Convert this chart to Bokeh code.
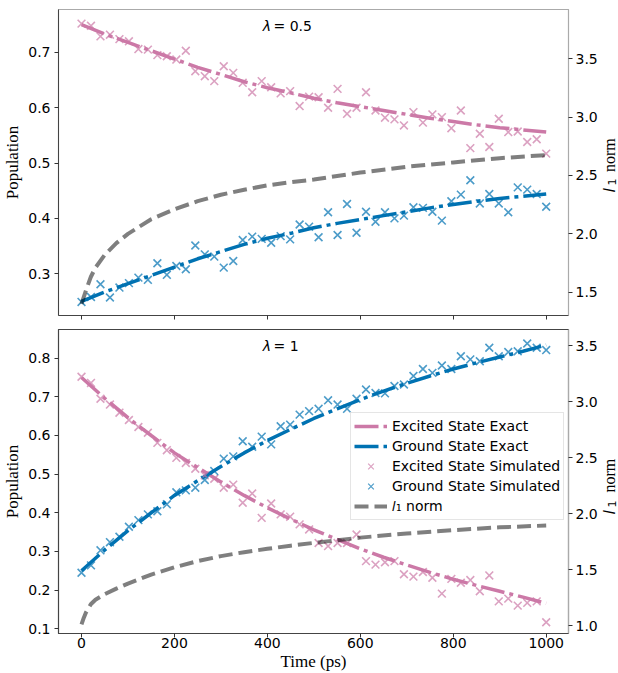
import math
from bokeh.plotting import figure
from bokeh.layouts import column, row
from bokeh.models import (Range1d, LinearAxis, FixedTicker, Legend, LegendItem,
                          Label, CustomJSTickFormatter, PrintfTickFormatter)
from bokeh.embed import file_html
from bokeh.resources import INLINE

# ---------------- data ----------------
t_sim = [0, 20.41, 40.82, 61.22, 81.63, 102.04, 122.45, 142.86, 163.27, 183.67,
         204.08, 224.49, 244.9, 265.31, 285.71, 306.12, 326.53, 346.94, 367.35, 387.76,
         408.16, 428.57, 448.98, 469.39, 489.8, 510.2, 530.61, 551.02, 571.43, 591.84,
         612.24, 632.65, 653.06, 673.47, 693.88, 714.29, 734.69, 755.1, 775.51, 795.92,
         816.33, 836.73, 857.14, 877.55, 897.96, 918.37, 938.78, 959.18, 979.59, 1000]

t_exact = [0, 50, 100, 150, 200, 250, 300, 350, 400, 450, 500,
           550, 600, 650, 700, 750, 800, 850, 900, 950, 1000]

t_l1 = [0, 5, 10, 20, 30, 50, 75, 100, 150, 200, 250, 300, 350, 400, 450, 500,
        600, 700, 800, 900, 1000]

# lambda = 0.5 panel
exc_exact_05 = [0.750, 0.733, 0.718, 0.703, 0.688, 0.673, 0.660, 0.647, 0.636, 0.627, 0.617,
                0.609, 0.602, 0.595, 0.588, 0.581, 0.575, 0.569, 0.564, 0.560, 0.556]
gnd_exact_05 = [0.250, 0.267, 0.282, 0.297, 0.312, 0.327, 0.340, 0.353, 0.364, 0.373, 0.383,
                0.391, 0.398, 0.405, 0.412, 0.419, 0.425, 0.431, 0.436, 0.440, 0.444]
exc_sim_05 = [0.752, 0.748, 0.729, 0.732, 0.724, 0.720, 0.706, 0.705, 0.695, 0.693,
              0.687, 0.703, 0.666, 0.657, 0.648, 0.675, 0.663, 0.645, 0.628, 0.648,
              0.637, 0.626, 0.630, 0.603, 0.620, 0.619, 0.600, 0.634, 0.589, 0.600,
              0.628, 0.595, 0.582, 0.579, 0.568, 0.592, 0.573, 0.588, 0.583, 0.563,
              0.595, 0.527, 0.553, 0.529, 0.580, 0.556, 0.557, 0.538, 0.543, 0.517]
gnd_sim_05 = [0.249, 0.258, 0.281, 0.257, 0.275, 0.283, 0.293, 0.289, 0.319, 0.298,
              0.314, 0.308, 0.351, 0.335, 0.331, 0.311, 0.323, 0.361, 0.367, 0.363,
              0.356, 0.368, 0.362, 0.389, 0.385, 0.366, 0.411, 0.370, 0.426, 0.374,
              0.412, 0.394, 0.411, 0.400, 0.405, 0.420, 0.419, 0.412, 0.396, 0.431,
              0.443, 0.469, 0.427, 0.444, 0.427, 0.411, 0.456, 0.452, 0.444, 0.421]
l1_05 = [1.40, 1.46, 1.52, 1.63, 1.71, 1.82, 1.92, 2.00, 2.125, 2.21, 2.28, 2.335, 2.378,
         2.415, 2.443, 2.465, 2.525, 2.575, 2.612, 2.648, 2.675]

# lambda = 1 panel
exc_exact_1 = [0.750, 0.696, 0.646, 0.600, 0.555, 0.517, 0.480, 0.445, 0.413, 0.384, 0.356,
               0.331, 0.307, 0.285, 0.265, 0.246, 0.228, 0.212, 0.197, 0.182, 0.166]
gnd_exact_1 = [0.250, 0.304, 0.354, 0.400, 0.445, 0.483, 0.520, 0.555, 0.587, 0.616, 0.644,
               0.669, 0.693, 0.715, 0.735, 0.754, 0.772, 0.788, 0.803, 0.818, 0.834]
exc_sim_1 = [0.752, 0.736, 0.695, 0.680, 0.659, 0.640, 0.622, 0.607, 0.581, 0.562,
             0.542, 0.529, 0.514, 0.497, 0.488, 0.465, 0.473, 0.426, 0.450, 0.387,
             0.424, 0.396, 0.390, 0.370, 0.357, 0.322, 0.314, 0.322, 0.322, 0.344,
             0.275, 0.266, 0.272, 0.275, 0.241, 0.235, 0.247, 0.232, 0.191, 0.229,
             0.219, 0.226, 0.197, 0.238, 0.171, 0.178, 0.160, 0.167, 0.171, 0.117]
gnd_sim_1 = [0.245, 0.264, 0.303, 0.324, 0.338, 0.364, 0.381, 0.396, 0.404, 0.422,
             0.453, 0.458, 0.465, 0.485, 0.508, 0.540, 0.546, 0.585, 0.571, 0.597,
             0.577, 0.624, 0.628, 0.654, 0.663, 0.669, 0.691, 0.680, 0.669, 0.695,
             0.719, 0.710, 0.709, 0.728, 0.732, 0.754, 0.772, 0.762, 0.781, 0.772,
             0.805, 0.797, 0.792, 0.827, 0.805, 0.816, 0.818, 0.838, 0.827, 0.821]
l1_1 = [1.01, 1.07, 1.12, 1.19, 1.23, 1.28, 1.33, 1.375, 1.455, 1.52, 1.575, 1.62, 1.655,
        1.685, 1.713, 1.738, 1.785, 1.822, 1.852, 1.877, 1.893]

x_ticks = [0, 200, 400, 600, 800, 1000]
pop_ticks_05 = [0.3, 0.4, 0.5, 0.6, 0.7]
l1_ticks_05 = [1.5, 2.0, 2.5, 3.0, 3.5]
pop_ticks_1 = [0.1, 0.2, 0.3, 0.4, 0.5, 0.6, 0.7, 0.8]
l1_ticks_1 = [1.0, 1.5, 2.0, 2.5, 3.0, 3.5]

labels = ["Excited State Exact", "Ground State Exact", "Excited State Simulated",
          "Ground State Simulated", "\U0001D459\u2081 norm"]

# ---------------- styling ----------------
PINK = "#CC79A7"
BLUE = "#0072B2"
TICK_FONT = "DejaVu Sans"
LABEL_FONT = "Liberation Serif"
DASHDOT = "24 5 4 5"
DASHED = "14 6"
X_HI = 1048
MAIN_W = 600      # width of the two plot figures
STRIP_W = 18      # strip on the right carrying the rotated "l1 norm" labels
TOP_H = 322
BOT_H = 351


def style_axis(ax, ticks, fmt, standoff):
    ax.ticker = FixedTicker(ticks=ticks)
    if fmt is not None:
        ax.formatter = fmt
    ax.major_label_text_font = TICK_FONT
    ax.major_label_text_font_size = "14px"
    ax.major_label_text_color = "black"
    ax.major_tick_out = 4
    ax.major_tick_in = 0
    ax.minor_tick_out = 0
    ax.minor_tick_in = 0
    ax.major_tick_line_color = "#333333"
    ax.major_label_standoff = standoff
    ax.axis_label_text_font = LABEL_FONT
    ax.axis_label_text_font_size = "17px"
    ax.axis_label_text_font_style = "normal"
    ax.axis_label_text_color = "black"
    ax.axis_label_standoff = 3


def make_panel(height, top_border, bottom_border, pop_range, l1_range, pop_ticks, l1_ticks,
               exc_exact, gnd_exact, exc_sim, gnd_sim, l1, lam_text, show_x_labels,
               outline_color):
    p = figure(width=MAIN_W, height=height, x_range=Range1d(-49.5, X_HI),
               y_range=Range1d(*pop_range), output_backend="svg", toolbar_location=None,
               min_border_left=57, min_border_right=MAIN_W - 569, min_border_top=top_border,
               min_border_bottom=bottom_border)
    p.extra_y_ranges = {"l1": Range1d(*l1_range)}
    p.xgrid.visible = False
    p.ygrid.visible = False
    p.outline_line_color = outline_color
    p.outline_line_width = 1.2
    p.background_fill_color = "white"
    p.border_fill_color = "white"

    style_axis(p.xaxis[0], x_ticks, None, 2)
    style_axis(p.yaxis[0], pop_ticks, PrintfTickFormatter(format="%.1f"), 4)
    p.yaxis[0].axis_label = "Population"
    p.xaxis[0].axis_line_color = "#444444"
    p.yaxis[0].axis_line_color = "#444444"
    if show_x_labels:
        p.xaxis[0].axis_label = "Time (ps)"
        p.xaxis[0].major_label_standoff = 0
        p.xaxis[0].axis_label_standoff = 1
    else:
        p.xaxis[0].formatter = CustomJSTickFormatter(code="return ''")
        p.xaxis[0].major_label_text_font_size = "0px"
        p.xaxis[0].major_label_standoff = 0

    ax_r = LinearAxis(y_range_name="l1")
    style_axis(ax_r, l1_ticks, PrintfTickFormatter(format="%.1f"), 3)
    ax_r.axis_line_color = "#aaaaaa"
    p.add_layout(ax_r, "right")

    r_ee = p.line(t_exact, exc_exact, line_color=PINK, line_width=3.5, line_dash=DASHDOT)
    r_ge = p.line(t_exact, gnd_exact, line_color=BLUE, line_width=3.5, line_dash=DASHDOT)
    r_es = p.scatter(t_sim, exc_sim, marker="x", size=11, line_color=PINK,
                     line_width=1.6, line_alpha=0.7)
    r_gs = p.scatter(t_sim, gnd_sim, marker="x", size=11, line_color=BLUE,
                     line_width=1.6, line_alpha=0.7)
    r_l1 = p.line(t_l1, l1, line_color="black", line_alpha=0.5, line_width=4,
                  line_dash=DASHED, y_range_name="l1")

    # lambda annotation (axes fraction 0.4 -> data x 390)
    lam_y = pop_range[0] + (pop_range[1] - pop_range[0]) * 0.945
    p.add_layout(Label(x=390, y=lam_y, text="\u03bb", text_font=TICK_FONT,
                       text_font_size="14px", text_font_style="italic",
                       text_baseline="alphabetic", text_color="black"))
    p.add_layout(Label(x=390, y=lam_y, x_offset=8, text=lam_text, text_font=TICK_FONT,
                       text_font_size="14px", text_baseline="alphabetic",
                       text_color="black"))
    return p, (r_ee, r_ge, r_es, r_gs, r_l1)


top, _ = make_panel(TOP_H, 9, 7, (0.2245, 0.7775), (1.30, 3.9225), pop_ticks_05, l1_ticks_05,
                    exc_exact_05, gnd_exact_05, exc_sim_05, gnd_sim_05, l1_05,
                    "\u2009= 0.5", False, "#aaaaaa")
bot, rs = make_panel(BOT_H, 7, 40, (0.0878, 0.8742), (0.929, 3.643), pop_ticks_1, l1_ticks_1,
                     exc_exact_1, gnd_exact_1, exc_sim_1, gnd_sim_1, l1_1,
                     "\u2009= 1", True, "#444444")

# small legend markers (single off-range point each)
leg_es = bot.scatter([-1000], [0.5], marker="x", size=6, line_color=PINK, line_width=1.2,
                     line_alpha=0.7)
leg_gs = bot.scatter([-1000], [0.5], marker="x", size=6, line_color=BLUE, line_width=1.2,
                     line_alpha=0.7)

legend = Legend(items=[
    LegendItem(label=labels[0], renderers=[rs[0]]),
    LegendItem(label=labels[1], renderers=[rs[1]]),
    LegendItem(label=labels[2], renderers=[leg_es]),
    LegendItem(label=labels[3], renderers=[leg_gs]),
    LegendItem(label=labels[4], renderers=[rs[4]]),
], location=(292, 113))
legend.label_text_font = TICK_FONT
legend.label_text_font_size = "14px"
legend.label_text_color = "black"
legend.glyph_width = 33
legend.glyph_height = 20
legend.label_height = 20
legend.label_standoff = 5
legend.padding = 3
legend.spacing = 0
legend.margin = 0
legend.border_line_color = "#cccccc"
legend.border_line_width = 1
legend.background_fill_alpha = 0.8
bot.add_layout(legend)

# strip carrying the rotated right-axis titles ("l_1 norm"); y counted from page top
strip = figure(width=STRIP_W, height=TOP_H + BOT_H, x_range=Range1d(0, STRIP_W),
               y_range=Range1d(TOP_H + BOT_H, 0), output_backend="svg",
               toolbar_location=None, x_axis_location=None, y_axis_location=None,
               min_border=0, min_border_left=0, min_border_right=0, min_border_top=0,
               min_border_bottom=0)
strip.outline_line_color = None
strip.xgrid.visible = False
strip.ygrid.visible = False
strip.background_fill_color = "white"
strip.border_fill_color = "white"

common = dict(angle=math.pi / 2, text_align="left", text_baseline="alphabetic",
              text_color="black")
# (y of the 'l', y of the subscript, y of 'norm') for each panel
for (yl, ys, yn) in [(192, 185, 171.5), (514, 507, 492)]:
    strip.add_layout(Label(x=9, y=yl, text="l", text_font=TICK_FONT, text_font_size="16px",
                           text_font_style="italic", **common))
    strip.add_layout(Label(x=11.5, y=ys, text="1", text_font=TICK_FONT,
                           text_font_size="11px", **common))
    strip.add_layout(Label(x=9, y=yn, text="norm", text_font=LABEL_FONT,
                           text_font_size="16px", **common))

layout = row(column(top, bot, spacing=0), strip, spacing=0)
open("out.html", "w").write(file_html(layout, INLINE))
